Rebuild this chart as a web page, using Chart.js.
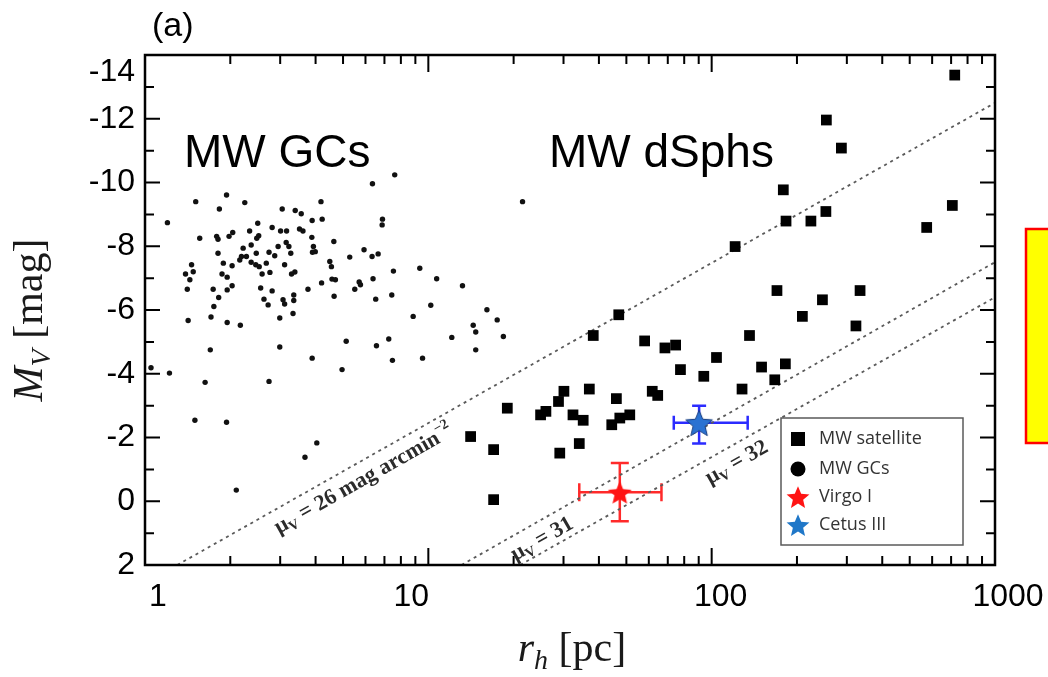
<!DOCTYPE html>
<html>
<head>
<meta charset="utf-8">
<script src="https://cdn.jsdelivr.net/npm/chart.js@4.4.1/dist/chart.umd.min.js"></script>
<style>
html, body { margin: 0; padding: 0; background: #fff; }
#wrap { width: 1048px; height: 677px; }
</style>
</head>
<body>
<div id="wrap"><canvas id="chart" width="1048" height="677"></canvas></div>
<script>
// MW satellites (r_h in pc, M_V in mag)
var satR = [721, 254, 287, 179, 707, 574, 183, 224, 253, 121, 170, 334, 246, 209, 47,
            323, 38.2, 58, 68.4, 74.6, 136, 104, 77.6, 93.8, 150, 182, 167, 128, 30.1, 37,
            28.8, 26, 24.9, 32.4, 35.2, 46.1, 61.7, 64.5, 51.4, 47.4, 44.4, 19, 14.1, 17.0,
            34.1, 29.1, 17.0];
var satM = [-13.37, -11.96, -11.08, -9.77, -9.28, -8.59, -8.79, -8.79, -9.09, -7.99, -6.61, -6.61, -6.32, -5.80, -5.85,
            -5.50, -5.20, -5.03, -4.81, -4.90, -5.20, -4.51, -4.13, -3.92, -4.21, -4.31, -3.81, -3.52, -3.45, -3.52,
            -3.13, -2.82, -2.71, -2.71, -2.54, -3.22, -3.45, -3.32, -2.71, -2.61, -2.40, -2.92, -2.03, -1.62,
            -1.81, -1.51, -0.05];

// MW globular clusters
var gcR = [7.61, 6.35, 21.5, 1.51, 1.94, 2.25, 1.83, 4.18, 3.05, 3.39, 3.56, 3.89, 4.22, 6.89, 6.87,
           1.20, 2.50, 2.81, 3.01, 3.16, 2.34, 2.04, 1.98, 1.79, 1.81, 1.56, 2.52, 2.48, 3.51, 3.61,
           3.88, 4.64, 2.37, 2.22, 2.95, 3.15, 3.22, 3.93, 3.99, 3.90, 5.93, 6.65, 6.33, 5.28, 1.81,
           2.19, 2.28, 2.47, 2.74, 2.87, 3.27, 2.16, 2.37, 2.46, 2.53, 2.68, 3.11, 2.03, 1.89, 1.46,
           1.39, 1.48, 1.44, 1.87, 1.95, 2.59, 2.76, 3.38, 3.29, 4.49, 4.55, 7.53, 9.33, 4.57, 4.70,
           6.38, 5.70, 5.76, 10.7, 13.2, 4.20, 1.41, 1.74, 1.95, 2.03, 2.56, 2.81, 3.76, 5.50, 1.82,
           3.35, 3.35, 4.65, 7.43, 6.52, 2.63, 2.72, 3.07, 3.11, 1.75, 1.71, 1.42, 1.95, 2.17, 2.99,
           3.33, 10.2, 16.1, 17.5, 8.84, 14.4, 14.7, 18.4, 12.1, 7.25, 5.13, 6.56, 1.70, 2.99, 14.7,
           3.89, 7.47, 9.54, 4.96, 1.22, 1.63, 2.74, 1.50, 1.94, 4.04, 3.67, 2.10, 1.05];
var gcM = [-10.24, -9.96, -9.40, -9.40, -9.61, -9.37, -9.17, -9.40, -9.17, -9.12, -9.02, -8.81, -8.85, -8.85, -8.67,
           -8.74, -8.72, -8.59, -8.48, -8.48, -8.48, -8.43, -8.31, -8.31, -8.22, -8.25, -8.33, -8.25, -8.54, -8.48,
           -8.28, -8.15, -8.04, -7.94, -7.99, -8.12, -7.99, -7.99, -7.83, -7.81, -7.89, -7.76, -7.68, -7.66, -7.78,
           -7.68, -7.68, -7.78, -7.81, -7.70, -7.78, -7.57, -7.50, -7.42, -7.36, -7.47, -7.42, -7.39, -7.47, -7.42,
           -7.13, -7.20, -6.95, -7.13, -7.03, -7.13, -7.18, -7.19, -7.13, -7.52, -7.36, -7.22, -7.31, -6.97, -6.95,
           -6.98, -6.88, -6.79, -6.98, -6.76, -6.85, -6.65, -6.65, -6.63, -6.76, -6.69, -6.60, -6.65, -6.65, -6.39,
           -6.47, -6.30, -6.43, -6.47, -6.34, -6.34, -6.16, -6.32, -6.19, -6.11, -5.78, -5.67, -5.61, -5.52, -5.75,
           -5.89, -6.15, -6.01, -5.69, -5.80, -5.52, -5.31, -5.17, -5.14, -5.09, -5.02, -4.88, -4.75, -4.84, -4.75,
           -4.49, -4.42, -4.49, -4.13, -4.02, -3.73, -3.76, -2.54, -2.48, -1.83, -1.38, -0.35, -4.19];

// Virgo I and Cetus III with error ranges [low, high]
var virgoR = [47.4], virgoM = [-0.28];
var virgoRErr = [34.1, 66.5], virgoMErr = [-1.20, 0.63];
var cetusR = [90.3], cetusM = [-2.46];
var cetusRErr = [73.5, 134], cetusMErr = [-3.0, -1.81];

// constant surface brightness lines (end points)
var mu26R = [1.3, 1000], mu26M = [2, -12.5];
var mu31R = [13.1, 1000], mu31M = [2, -7.5];
var mu32R = [21.1, 1000], mu32M = [2, -6.4];

var xTicks = [1, 10, 100, 1000];
var xLabelShift = [13, -17, 9, 13];   // the x labels sit a bit off their ticks in the original
var yTicks = [-14, -12, -10, -8, -6, -4, -2, 0, 2];

function pts(xs, ys) { return xs.map(function (v, i) { return { x: v, y: ys[i] }; }); }

function starImage(size, fill, stroke) {
    var c = document.createElement('canvas');
    c.width = size; c.height = size;
    var g = c.getContext('2d');
    var R = size / 2 - 1, r = R * 0.45, cx = size / 2, cy = size / 2 + R * 0.1;
    g.beginPath();
    for (var i = 0; i < 10; i++) {
        var a = -Math.PI / 2 + i * Math.PI / 5;
        var rad = i % 2 ? r : R;
        g.lineTo(cx + rad * Math.cos(a), cy + rad * Math.sin(a));
    }
    g.closePath();
    g.fillStyle = fill; g.fill();
    if (stroke) { g.strokeStyle = stroke; g.lineWidth = 1; g.stroke(); }
    return c;
}

var redStar = starImage(27, '#ff1414');
var blueStar = starImage(30, '#2a72d2', '#1b3f80');

var lineStyle = { showLine: true, pointRadius: 0, borderColor: '#5a5a5a', borderWidth: 1.8, borderDash: [3, 4], fill: false };

// draw text pieces (with sub/superscripts) starting at x
function drawParts(ctx, parts, x, y) {
    parts.forEach(function (p) {
        ctx.font = p.font;
        ctx.fillText(p.t, x, y + (p.dy || 0));
        x += ctx.measureText(p.t).width;
    });
}
function partsWidth(ctx, parts) {
    var w = 0;
    parts.forEach(function (p) { ctx.font = p.font; w += ctx.measureText(p.t).width; });
    return w;
}

function lineLabel(ctx, xs, ys, lr, lm, startR, numText) {
    var x0 = xs.getPixelForValue(lr[0]), y0 = ys.getPixelForValue(lm[0]);
    var x1 = xs.getPixelForValue(lr[1]), y1 = ys.getPixelForValue(lm[1]);
    var ang = Math.atan2(y1 - y0, x1 - x0);
    var sx = xs.getPixelForValue(startR);
    var sy = y0 + (sx - x0) / (x1 - x0) * (y1 - y0);
    var big = 'bold 22px "Liberation Serif"', small = 'bold 14px "Liberation Serif"';
    var parts = [{ t: 'μ', font: big }, { t: 'V', font: small, dy: 4 }, { t: numText, font: big }];
    if (numText.indexOf('arcmin') >= 0) parts.push({ t: '−2', font: small, dy: -10 });
    ctx.save();
    ctx.translate(sx, sy);
    ctx.rotate(ang);
    ctx.fillStyle = '#2b2b2b';
    ctx.textBaseline = 'alphabetic';
    ctx.textAlign = 'left';
    drawParts(ctx, parts, 0, 23);
    ctx.restore();
}

var framePlugin = {
    id: 'frame',
    beforeDatasetsDraw: function (chart) {
        var ctx = chart.ctx, xs = chart.scales.x, ys = chart.scales.y;
        // error bars
        function errBar(r, m, rErr, mErr, color, cap) {
            var px = xs.getPixelForValue(r), py = ys.getPixelForValue(m);
            var xl = xs.getPixelForValue(rErr[0]), xh = xs.getPixelForValue(rErr[1]);
            var yl = ys.getPixelForValue(mErr[0]), yh = ys.getPixelForValue(mErr[1]);
            ctx.save();
            ctx.strokeStyle = color; ctx.lineWidth = 2.5;
            ctx.beginPath();
            ctx.moveTo(xl, py); ctx.lineTo(xh, py);
            ctx.moveTo(px, yl); ctx.lineTo(px, yh);
            ctx.moveTo(xl, py - cap); ctx.lineTo(xl, py + cap);
            ctx.moveTo(xh, py - cap); ctx.lineTo(xh, py + cap);
            ctx.moveTo(px - cap, yl); ctx.lineTo(px + cap, yl);
            ctx.moveTo(px - cap, yh); ctx.lineTo(px + cap, yh);
            ctx.stroke();
            ctx.restore();
        }
        errBar(virgoR[0], virgoM[0], virgoRErr, virgoMErr, '#ff2a2a', 9);
        errBar(cetusR[0], cetusM[0], cetusRErr, cetusMErr, '#2b2bff', 7);
    },
    afterDraw: function (chart) {
        var ctx = chart.ctx, a = chart.chartArea, xs = chart.scales.x, ys = chart.scales.y;
        ctx.save();
        // frame
        ctx.strokeStyle = '#000'; ctx.lineWidth = 2.5;
        ctx.strokeRect(a.left, a.top, a.right - a.left, a.bottom - a.top);
        // inner ticks
        ctx.lineWidth = 2;
        ctx.beginPath();
        for (var v = -13; v <= 1; v++) {
            var y = ys.getPixelForValue(v), len = v % 2 === 0 ? 15 : 9;
            ctx.moveTo(a.left, y); ctx.lineTo(a.left + len, y);
            ctx.moveTo(a.right, y); ctx.lineTo(a.right - len, y);
        }
        [1, 10, 100].forEach(function (d) {
            for (var k = 1; k <= 9; k++) {
                if (d === 1 && k === 1) continue;
                var x = xs.getPixelForValue(k * d), len = k === 1 ? 17 : 9;
                ctx.moveTo(x, a.bottom); ctx.lineTo(x, a.bottom - len);
                ctx.moveTo(x, a.top); ctx.lineTo(x, a.top + len);
            }
        });
        ctx.stroke();

        // tick labels that sit off their ticks
        ctx.fillStyle = '#000';
        ctx.font = '32px "Liberation Sans"';
        ctx.textAlign = 'right'; ctx.textBaseline = 'middle';
        ctx.fillText('-14', a.left - 10, ys.getPixelForValue(-14) + 17);
        ctx.textAlign = 'center'; ctx.textBaseline = 'top';
        xTicks.forEach(function (t, i) {
            ctx.fillText(String(t), xs.getPixelForValue(t) + xLabelShift[i], a.bottom + 16);
        });

        // panel tag and group labels
        ctx.textAlign = 'left'; ctx.textBaseline = 'alphabetic';
        ctx.font = '34px "Liberation Sans"';
        ctx.fillText('(a)', 152, 36);
        ctx.font = '46px "Liberation Sans"';
        ctx.fillText('MW GCs', 184, 167);
        ctx.fillText('MW dSphs', 549, 167);

        // line labels
        lineLabel(ctx, xs, ys, mu26R, mu26M, 2.71, ' = 26 mag arcmin');
        lineLabel(ctx, xs, ys, mu31R, mu31M, 18.5, ' = 31');
        lineLabel(ctx, xs, ys, mu32R, mu32M, 90, ' = 32');

        // legend
        var lx = 781, ly = 418, lw = 182, lh = 127;
        ctx.fillStyle = '#fff';
        ctx.fillRect(lx, ly, lw, lh);
        ctx.strokeStyle = '#5a5a5a'; ctx.lineWidth = 1.5;
        ctx.strokeRect(lx, ly, lw, lh);
        var rows = [439, 469, 497, 525];
        ctx.fillStyle = '#000';
        ctx.fillRect(798 - 7, rows[0] - 7, 14, 14);
        ctx.beginPath(); ctx.arc(798, rows[1], 7.5, 0, Math.PI * 2); ctx.fill();
        ctx.drawImage(starImage(26, '#ff1414'), 798 - 13, rows[2] - 13);
        ctx.drawImage(starImage(26, '#1f77c8'), 798 - 13, rows[3] - 13);
        ctx.fillStyle = '#333';
        ctx.font = '18px "Open Sans"';
        ctx.textBaseline = 'middle';
        ['MW satellite', 'MW GCs', 'Virgo I', 'Cetus III'].forEach(function (t, i) {
            ctx.fillText(t, 819, rows[i]);
        });

        // axis titles
        ctx.fillStyle = '#1a1a1a';
        ctx.textBaseline = 'alphabetic';
        var it = 'italic 42px "Liberation Serif"', itS = 'italic 28px "Liberation Serif"', up = '42px "Liberation Serif"';
        var yParts = [{ t: 'M', font: it }, { t: 'V', font: itS, dy: 8 }, { t: ' [mag]', font: up }];
        ctx.save();
        ctx.translate(42, 320);
        ctx.rotate(-Math.PI / 2);
        drawParts(ctx, yParts, -partsWidth(ctx, yParts) / 2, 0);
        ctx.restore();
        var xParts = [{ t: 'r', font: it }, { t: 'h', font: itS, dy: 8 }, { t: ' [pc]', font: up }];
        drawParts(ctx, xParts, 572 - partsWidth(ctx, xParts) / 2, 661);

        // yellow box at right edge
        ctx.fillStyle = '#ffff00';
        ctx.fillRect(1026, 229, 30, 214);
        ctx.strokeStyle = '#ff0000'; ctx.lineWidth = 2.5;
        ctx.strokeRect(1026, 229, 30, 214);
        ctx.restore();
    }
};

var chart = new Chart(document.getElementById('chart').getContext('2d'), {
    type: 'scatter',
    data: {
        datasets: [
            { label: 'Virgo I', data: pts(virgoR, virgoM), pointStyle: redStar, pointRadius: 13 },
            { label: 'Cetus III', data: pts(cetusR, cetusM), pointStyle: blueStar, pointRadius: 15 },
            { label: 'MW satellite', data: pts(satR, satM), pointStyle: 'rect', pointRadius: 7.6,
              backgroundColor: '#000', borderColor: '#000', borderWidth: 0 },
            { label: 'MW GCs', data: pts(gcR, gcM), pointStyle: 'circle', pointRadius: 2.7,
              backgroundColor: '#111', borderColor: '#111', borderWidth: 0 },
            Object.assign({ label: 'mu26', data: pts(mu26R, mu26M) }, lineStyle),
            Object.assign({ label: 'mu31', data: pts(mu31R, mu31M) }, lineStyle),
            Object.assign({ label: 'mu32', data: pts(mu32R, mu32M) }, lineStyle)
        ]
    },
    options: {
        responsive: false,
        animation: false,
        events: [],
        layout: { padding: { left: 0, top: 55, right: 53, bottom: 0 } },
        plugins: { legend: { display: false }, tooltip: { enabled: false } },
        scales: {
            x: {
                type: 'logarithmic', min: 1, max: 1000,
                afterFit: function (s) { s.height = 112; },
                afterBuildTicks: function (s) { s.ticks = xTicks.map(function (v) { return { value: v }; }); },
                grid: { display: false, drawTicks: false },
                border: { display: false },
                ticks: { display: false }
            },
            y: {
                type: 'linear', min: -14, max: 2, reverse: true,
                afterFit: function (s) { s.width = 145; },
                afterBuildTicks: function (s) { s.ticks = yTicks.map(function (v) { return { value: v }; }); },
                grid: { display: false, drawTicks: false },
                border: { display: false },
                ticks: {
                    padding: 10, color: '#000',
                    font: { family: 'Liberation Sans', size: 32 },
                    callback: function (v) { return v === -14 ? '' : String(v); }
                }
            }
        }
    },
    plugins: [framePlugin]
});
</script>
</body>
</html>
